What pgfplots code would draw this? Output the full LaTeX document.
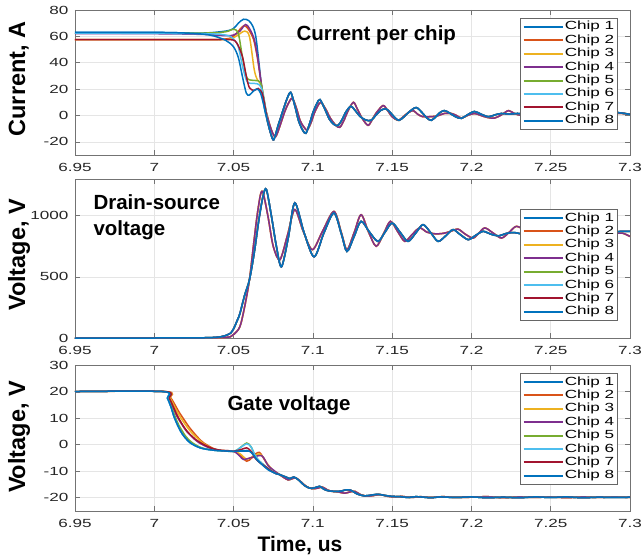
\documentclass[border=0pt]{standalone}
\usepackage{fontspec}
\setmainfont{Liberation Sans}
\newfontfamily\widefont[FakeStretch=1.45]{Liberation Sans}
\usepackage{pgfplots}
\usepackage{pgfplotstable}
\pgfplotsset{compat=1.18}

% MATLAB default line colours
\definecolor{c1}{rgb}{0,0.447,0.741}
\definecolor{c2}{rgb}{0.85,0.325,0.098}
\definecolor{c3}{rgb}{0.929,0.694,0.125}
\definecolor{c4}{rgb}{0.494,0.184,0.556}
\definecolor{c5}{rgb}{0.466,0.674,0.188}
\definecolor{c6}{rgb}{0.301,0.745,0.933}
\definecolor{c7}{rgb}{0.635,0.078,0.184}

\newcommand{\tickfont}{\widefont\fontsize{11.8}{13}\selectfont}
\newcommand{\labfont}{\bfseries\fontsize{23.5}{26}\selectfont}
\newcommand{\ttlfont}{\bfseries\fontsize{20.5}{24}\selectfont}

\pgfplotsset{
  chipax/.style={
    scale only axis, width=555pt,
    xmin=6.95, xmax=7.3,
    xtick={6.95,7,7.05,7.1,7.15,7.2,7.25,7.3},
    grid=major, grid style={black!10, line width=0.6pt},
    axis line style={black!55, line width=0.7pt},
    tick style={black!55, line width=0.6pt},
    tick align=inside, major tick length=5pt,
    tick label style={font=\tickfont, text=black!85},
    /pgf/number format/assume math mode=true,
    /pgf/number format/1000 sep={},
    xticklabel shift=5pt, yticklabel shift=3pt,
    legend style={at={(axis description cs:0.978,#1)}, anchor=north east,
      draw=black!60, fill=white, line width=0.6pt, font=\tickfont,
      inner sep=2pt, cells={anchor=west},
      nodes={inner sep=1.2pt, text height=8.5pt, text depth=2.5pt}},
    legend image code/.code={\draw[##1, line width=2pt] (0pt,0pt) -- (39pt,0pt);},
    every axis plot/.append style={line width=1.5pt, smooth},
  },
}

% ---------- current per chip: common ringing tails ----------
\pgfplotstableread{
x y
7.0715 -5
7.0735 -14
7.0753 -18.5
7.0780 -8
7.0807 2
7.0835 12
7.0860 17.5
7.0885 8
7.0910 -4
7.0935 -11
7.0956 -13.5
7.0980 -6
7.1000 2
7.1025 9
7.1045 12
7.1075 5
7.1105 -3
7.1135 -7
7.1160 -7.5
7.1185 -3
7.1210 3
7.1240 7
7.1265 4
7.1300 -1
7.1335 -3.5
7.1367 -3.7
7.1400 0.5
7.1430 4
7.1462 5
7.1490 2
7.1520 -2
7.1544 -3.7
7.1575 -1
7.1610 3
7.1652 6
7.1690 2
7.1720 -2
7.1747 -3.7
7.1775 -1
7.1800 2
7.1829 3.7
7.1860 2
7.1900 -1
7.1937 -2.2
7.1975 0.5
7.2019 3
7.2060 1
7.2108 -1
7.2150 0.5
7.2190 1.5
7.2240 1
7.2290 1.5
7.2350 1
7.2420 2
7.2500 1
7.2580 1.8
7.2660 1
7.2740 1.8
7.2820 1.2
7.2900 2.2
7.2950 1.8
7.3000 0.8
}\IblueTail
\pgfplotstableread{
x y
7.0725 -6
7.0745 -13
7.0766 -16
7.0795 -7
7.0820 2
7.0845 9
7.0870 13
7.0895 6
7.0920 -4
7.0945 -9
7.0965 -11
7.0990 -5
7.1010 2
7.1030 7
7.1050 10
7.1080 5
7.1110 -2
7.1145 -7.5
7.1170 -9
7.1195 -4
7.1220 3
7.1255 10
7.1280 5
7.1310 -2
7.1348 -7.5
7.1375 -3
7.1400 2
7.1443 7.5
7.1470 4
7.1500 -1
7.1538 -3.7
7.1570 -1
7.1600 2
7.1633 3.7
7.1660 1
7.1690 -0.8
7.1730 -1
7.1780 -0.5
7.1830 1.5
7.1873 1.5
7.1905 0
7.1937 -2
7.1975 0
7.2019 1.5
7.2060 0
7.2100 -1.5
7.2146 -2
7.2190 0.5
7.2234 3.7
7.2270 1.5
7.2320 0
7.2400 1.5
7.2480 0
7.2560 1.5
7.2640 0
7.2720 1.5
7.2800 0.5
7.2870 1.5
7.2950 1.5
7.3000 1
}\IpurpTail

% ---------- drain-source voltage ----------
\pgfplotstableread{
x y
6.9500 0
7.0000 0
7.0200 0.5
7.0350 3
7.0420 10
7.0460 25
7.0482 40
7.0502 80
7.0522 140
7.0540 200
7.0570 350
7.0600 475
7.0630 695
7.0660 970
7.0686 1160
7.0707 1214
7.0739 995
7.0770 750
7.0802 582
7.0845 820
7.0886 1105
7.0945 860
7.1008 664
7.1070 860
7.1133 1022
7.1180 850
7.1215 708
7.1260 830
7.1304 954
7.1355 870
7.1410 790
7.1455 865
7.1500 940
7.1550 865
7.1600 790
7.1650 860
7.1695 927
7.1745 858
7.1790 790
7.1840 838
7.1884 886
7.1930 845
7.1980 804
7.2025 838
7.2073 872
7.2120 850
7.2170 835
7.2220 855
7.2270 862
7.2350 845
7.2450 860
7.2550 845
7.2650 858
7.2750 848
7.2850 862
7.2950 872
7.3000 872
}\VdsBlue
\pgfplotstableread{
x y
6.9500 0
7.0000 0
7.0200 0
7.0400 2
7.0480 10
7.0502 30
7.0540 93
7.0570 257
7.0600 475
7.0625 750
7.0648 995
7.0670 1173
7.0686 1187
7.0717 995
7.0750 750
7.0792 640
7.0840 840
7.0886 1050
7.0940 870
7.0997 722
7.1060 870
7.1133 1035
7.1180 860
7.1215 722
7.1260 860
7.1304 1008
7.1350 870
7.1399 750
7.1445 850
7.1489 954
7.1535 870
7.1580 790
7.1625 845
7.1673 900
7.1720 865
7.1770 852
7.1820 855
7.1865 870
7.1915 890
7.1960 850
7.2010 817
7.2045 855
7.2084 900
7.2135 860
7.2189 817
7.2235 860
7.2284 913
7.2350 870
7.2400 830
7.2470 825
7.2550 860
7.2630 880
7.2720 850
7.2800 835
7.2890 850
7.2950 858
7.3000 830
}\VdsPurp

% ---------- gate voltage: common tails ----------
\pgfplotstableread{
x y
7.0771 -11.0
7.0792 -11.3
7.0812 -11.8
7.0830 -12.2
7.0855 -12.8
7.0880 -12.2
7.0910 -13.3
7.0945 -15.3
7.0980 -16.4
7.1010 -16.3
7.1043 -15.7
7.1070 -16.8
7.1100 -17.4
7.1140 -17.6
7.1180 -17.5
7.1210 -17.0
7.1240 -17.2
7.1280 -18.6
7.1325 -19.3
7.1370 -19.0
7.1410 -18.7
7.1450 -19.1
7.1500 -19.5
7.1550 -19.6
7.1600 -19.9
7.1650 -19.6
7.1700 -19.8
7.1750 -20.0
7.1800 -19.7
7.1900 -19.9
7.2000 -19.7
7.2100 -20.0
7.2200 -19.8
7.2300 -20.0
7.2400 -19.7
7.2500 -19.9
7.2600 -19.7
7.2700 -20.0
7.2800 -19.8
7.2900 -19.9
7.3000 -19.8
}\VgBlueTail
\pgfplotstableread{
x y
7.0771 -10.5
7.0795 -11.5
7.0820 -12.5
7.0845 -13.3
7.0870 -12.8
7.0895 -12.6
7.0925 -14.0
7.0960 -15.8
7.0995 -16.6
7.1030 -16.4
7.1060 -16.0
7.1090 -17.0
7.1120 -17.6
7.1160 -17.8
7.1200 -18.3
7.1235 -17.8
7.1265 -17.6
7.1300 -18.8
7.1340 -19.4
7.1380 -19.2
7.1425 -18.8
7.1465 -19.4
7.1510 -19.7
7.1560 -19.5
7.1620 -19.9
7.1680 -19.6
7.1740 -19.9
7.1820 -19.6
7.1900 -19.9
7.2000 -19.8
7.2100 -19.6
7.2200 -20.0
7.2300 -19.7
7.2400 -19.9
7.2500 -19.7
7.2600 -20.0
7.2700 -19.7
7.2800 -19.9
7.2900 -19.7
7.3000 -19.9
}\VgPurpTail

\begin{document}
\begin{tikzpicture}
\path[use as bounding box] (0,0) rectangle (643pt,558pt);

% ===== panel 1: current per chip =====
\begin{axis}[chipax=0.945, at={(75pt,403pt)}, anchor=south west,
  height=145pt, ymin=-30, ymax=80, ytick={-20,0,...,80}]
\addplot[c1] coordinates {(6.95,63) (7.00,63) (7.03,62.5) (7.045,64) (7.050,66)
  (7.053,70) (7.0563,73) (7.0595,72) (7.062,68) (7.064,60) (7.066,40) (7.068,18)
  (7.0695,5) (7.0715,-5)};
\addplot[c1, forget plot] table {\IblueTail};
\addplot[c2] coordinates {(6.95,57.5) (7.03,57.5) (7.045,58) (7.050,60) (7.053,64)
  (7.0565,68) (7.059,66) (7.0625,58) (7.065,44) (7.067,28) (7.069,12) (7.0705,3)
  (7.0725,-6)};
\addplot[c2, forget plot] table {\IpurpTail};
\addplot[c3] coordinates {(6.95,57.5) (7.03,57.5) (7.045,57.5) (7.050,59) (7.054,62)
  (7.057,64) (7.060,60) (7.063,35) (7.065,27) (7.067,24) (7.069,12) (7.0705,3)
  (7.0725,-6)};
\addplot[c3, forget plot] table {\IpurpTail};
\addplot[c4] coordinates {(6.95,62) (7.00,62) (7.03,61.5) (7.045,60.5) (7.050,61)
  (7.054,64) (7.0575,69) (7.060,66) (7.063,58) (7.065,45) (7.067,28) (7.069,12)
  (7.0705,3) (7.0725,-6)};
\addplot[c4, forget plot] table {\IpurpTail};
\addplot[c5] coordinates {(6.95,62.5) (7.03,62.5) (7.045,63.5) (7.050,65.5) (7.053,62)
  (7.0555,45) (7.058,30) (7.060,27) (7.064,26.5) (7.067,25) (7.069,14) (7.0715,-5)};
\addplot[c5, forget plot] table {\IblueTail};
\addplot[c6] coordinates {(6.95,62.5) (7.03,62) (7.045,61) (7.050,58) (7.053,52)
  (7.0555,38) (7.058,27) (7.060,24.5) (7.065,24) (7.0675,21) (7.0695,10) (7.0715,-5)};
\addplot[c6, forget plot] table {\IblueTail};
\addplot[c7] coordinates {(6.95,57.5) (7.03,57.5) (7.048,57.5) (7.052,55) (7.0555,45)
  (7.058,30) (7.060,21) (7.063,19) (7.0655,20.5) (7.068,17) (7.0695,9) (7.0715,-5)};
\addplot[c7, forget plot] table {\IblueTail};
\addplot[c1] coordinates {(6.95,63) (7.00,63) (7.02,62.5) (7.035,61) (7.045,57)
  (7.05,52) (7.053,44) (7.0555,30) (7.058,17) (7.060,15.5) (7.0625,18.5) (7.065,20)
  (7.067,17) (7.069,8) (7.0715,-5)};
\addplot[c1, forget plot] table {\IblueTail};
\legend{Chip 1,Chip 2,Chip 3,Chip 4,Chip 5,Chip 6,Chip 7,Chip 8}
\end{axis}

% ===== panel 2: drain-source voltage =====
\begin{axis}[chipax=0.811, at={(75pt,220pt)}, anchor=south west,
  height=159pt, ymin=0, ymax=1300, ytick={0,500,1000}]
\addplot[c1] table {\VdsBlue};
\addplot[c2] table {\VdsPurp};
\addplot[c3] table {\VdsPurp};
\addplot[c4] table {\VdsPurp};
\addplot[c5] table {\VdsBlue};
\addplot[c6] table {\VdsBlue};
\addplot[c7] table {\VdsBlue};
\addplot[c1] table {\VdsBlue};
\legend{Chip 1,Chip 2,Chip 3,Chip 4,Chip 5,Chip 6,Chip 7,Chip 8}
\end{axis}

% ===== panel 3: gate voltage =====
\begin{axis}[chipax=0.945, at={(75pt,47pt)}, anchor=south west,
  height=146pt, ymin=-25, ymax=30, ytick={-20,-10,...,30}]
\addplot[c1] coordinates {(6.95,20) (7.0055,20) (7.0083,17.5) (7.0104,14.4)
  (7.0125,10.5) (7.0146,7.5) (7.0167,5) (7.0188,3.1) (7.0229,0.6) (7.0292,-1.25)
  (7.0375,-2.1) (7.045,-2.4) (7.05,-2.5) (7.0604,-2.5) (7.0625,-3.8) (7.0646,-5.6)
  (7.068,-7.5) (7.072,-9.5) (7.0771,-11)};
\addplot[c1, forget plot] table {\VgBlueTail};
\addplot[c2] coordinates {(6.95,20) (7.0070,20) (7.0102,17.8) (7.0125,15.6)
  (7.0156,12.3) (7.0188,9.4) (7.022,6.6) (7.025,4.4) (7.028,2.4) (7.0313,0.6)
  (7.0375,-1.5) (7.0417,-2.1) (7.05,-2.5) (7.0542,-4) (7.0583,-6.25) (7.0615,-5)
  (7.0638,-3.5) (7.0663,-2.9) (7.0683,-4.5) (7.0708,-6.9) (7.075,-10) (7.0771,-10.5)};
\addplot[c2, forget plot] table {\VgPurpTail};
\addplot[c3] coordinates {(6.95,20) (7.0068,20) (7.01,17.6) (7.0122,15) (7.0152,11.6)
  (7.0184,8.6) (7.0215,6) (7.0245,3.9) (7.028,2) (7.031,0.4) (7.037,-1.5)
  (7.0417,-2.2) (7.05,-2.5) (7.0542,-3.5) (7.0583,-5.5) (7.062,-4.5) (7.0663,-3.5)
  (7.069,-5) (7.071,-7) (7.075,-9.8) (7.0771,-10.5)};
\addplot[c3, forget plot] table {\VgPurpTail};
\addplot[c4] coordinates {(6.95,20) (7.0062,20) (7.009,17.5) (7.0115,14.5) (7.014,11)
  (7.017,8) (7.02,5.3) (7.024,2.8) (7.028,0.8) (7.035,-1.3) (7.042,-2.2) (7.05,-2.5)
  (7.0542,-4.5) (7.0563,-5.6) (7.0604,-5) (7.0635,-4.5) (7.0677,-4.1) (7.07,-6)
  (7.0719,-8) (7.075,-9.5) (7.0771,-10.5)};
\addplot[c4, forget plot] table {\VgPurpTail};
\addplot[c5] coordinates {(6.95,20) (7.0058,20) (7.0088,17.5) (7.011,14) (7.0135,10)
  (7.0156,7.2) (7.018,4.8) (7.02,3) (7.024,0.7) (7.03,-1.2) (7.038,-2.1) (7.05,-2.5)
  (7.054,-1.2) (7.0583,0.6) (7.061,-0.8) (7.0635,-4) (7.066,-6) (7.0698,-8)
  (7.073,-9.5) (7.0771,-11)};
\addplot[c5, forget plot] table {\VgBlueTail};
\addplot[c6] coordinates {(6.95,20) (7.0055,20) (7.0083,17.5) (7.0104,14.4)
  (7.0125,10.5) (7.0146,7.5) (7.0167,5) (7.0188,3.1) (7.0229,0.6) (7.0292,-1.25)
  (7.0375,-2.1) (7.05,-2.5) (7.054,-1.2) (7.0583,0.3) (7.061,-0.8) (7.0635,-4)
  (7.066,-6) (7.0698,-8) (7.073,-9.5) (7.0771,-11)};
\addplot[c6, forget plot] table {\VgBlueTail};
\addplot[c7] coordinates {(6.95,20) (7.0065,20) (7.0095,17.5) (7.012,14.3) (7.0145,11)
  (7.017,8.3) (7.0195,6) (7.022,4.2) (7.026,2) (7.0313,0) (7.0375,-1.6) (7.044,-2.3)
  (7.05,-2.5) (7.055,-1.8) (7.0583,-1.2) (7.061,-2.5) (7.0635,-5) (7.067,-7)
  (7.07,-8.2) (7.0735,-9.8) (7.0771,-11)};
\addplot[c7, forget plot] table {\VgBlueTail};
\addplot[c1] coordinates {(6.95,20) (7.0055,20) (7.0083,17.5) (7.0104,14.4)
  (7.0125,10.5) (7.0146,7.5) (7.0167,5) (7.0188,3.1) (7.0229,0.6) (7.0292,-1.25)
  (7.0375,-2.1) (7.05,-2.5) (7.0583,-2.2) (7.0604,-2.6) (7.0625,-3.8) (7.0646,-5.6)
  (7.068,-7.5) (7.072,-9.5) (7.0771,-11)};
\addplot[c1, forget plot] table {\VgBlueTail};
\legend{Chip 1,Chip 2,Chip 3,Chip 4,Chip 5,Chip 6,Chip 7,Chip 8}
\end{axis}

% ===== labels and in-plot titles =====
\node[rotate=90, anchor=base, font=\labfont] at (25pt,479pt) {Current, A};
\node[rotate=90, anchor=base, font=\labfont] at (25pt,303pt) {Voltage, V};
\node[rotate=90, anchor=base, font=\labfont] at (25pt,121pt) {Voltage, V};
\node[anchor=base, font=\bfseries\fontsize{21}{24}\selectfont] at (300pt,6.3pt) {Time, us};
\node[anchor=base west, font=\ttlfont] at (293pt,517.3pt) {Current per chip};
\node[anchor=base west, font=\ttlfont] at (90pt,348pt) {Drain-source};
\node[anchor=base west, font=\ttlfont] at (90pt,323pt) {voltage};
\node[anchor=base west, font=\ttlfont] at (224pt,148pt) {Gate voltage};
\end{tikzpicture}
\end{document}
